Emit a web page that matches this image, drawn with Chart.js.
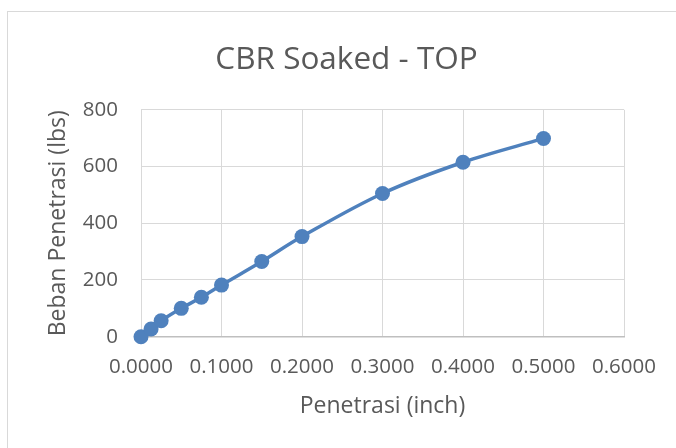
<!DOCTYPE html>
<html>
<head>
<meta charset="utf-8">
<script src="https://cdn.jsdelivr.net/npm/chart.js@4/dist/chart.umd.min.js"></script>
<style>
  html, body { margin: 0; padding: 0; background: #ffffff; overflow: hidden; }
  #frame { position: absolute; left: 7px; top: 11px; width: 720px; height: 500px; border: 1px solid #d9d9d9; box-sizing: border-box; }
  #wrap { position: absolute; left: 0; top: 0; width: 676px; height: 448px; }
</style>
</head>
<body>
<div id="frame"></div>
<div id="wrap"><canvas id="c" width="676" height="448"></canvas></div>
<script>
const chartTitle = "CBR Soaked - TOP";
const xAxisTitle = "Penetrasi (inch)";
const yAxisTitle = "Beban Penetrasi (lbs)";
const penetrasi = [0, 0.0125, 0.025, 0.05, 0.075, 0.1, 0.15, 0.2, 0.3, 0.4, 0.5];
const beban = [0, 27, 56, 100, 139, 182, 265, 353, 505, 615, 699];
const xTicks = [0, 0.1, 0.2, 0.3, 0.4, 0.5, 0.6];
const yTicks = [0, 200, 400, 600, 800];

const FONT = "'Open Sans', 'DejaVu Sans', sans-serif";
const TXT = '#595959';
const GRID = '#d9d9d9';
const BLUE = 'rgb(79,129,189)';

const points = penetrasi.map((x, i) => ({ x: x, y: beban[i] }));

new Chart(document.getElementById('c'), {
  type: 'scatter',
  data: {
    datasets: [{
      data: points,
      showLine: true,
      borderColor: BLUE,
      backgroundColor: BLUE,
      borderWidth: 3.5,
      pointRadius: 7.5,
      pointHoverRadius: 7.5,
      pointBorderWidth: 0,
      tension: 0.35,
      clip: false
    }]
  },
  options: {
    responsive: false,
    animation: false,
    events: [],
    layout: { padding: { left: 17, top: 11, right: 0, bottom: 0 } },
    plugins: {
      legend: { display: false },
      tooltip: { enabled: false },
      title: {
        display: true,
        text: chartTitle,
        color: TXT,
        font: { family: FONT, size: 31.5, weight: 'normal' },
        padding: { top: 30, bottom: 31 }
      }
    },
    scales: {
      x: {
        type: 'linear',
        min: xTicks[0],
        max: xTicks[xTicks.length - 1],
        afterBuildTicks: (s) => { s.ticks = xTicks.map(v => ({ value: v })); },
        afterFit: (s) => { s.height = 111.3; },
        ticks: {
          color: TXT,
          font: { family: FONT, size: 20.5 },
          padding: 18,
          maxRotation: 0,
          callback: (v) => Number(v).toFixed(4)
        },
        grid: { color: GRID, lineWidth: 1, drawTicks: false },
        border: { color: '#bfbfbf', width: 1.5 },
        title: {
          display: true,
          text: xAxisTitle,
          color: TXT,
          font: { family: FONT, size: 23 },
          padding: { top: 0, bottom: 28 }
        }
      },
      y: {
        type: 'linear',
        min: yTicks[0],
        max: yTicks[yTicks.length - 1],
        afterBuildTicks: (s) => { s.ticks = yTicks.map(v => ({ value: v })); },
        afterFit: (s) => { s.width = 124; },
        ticks: {
          color: TXT,
          font: { family: FONT, size: 20.5 },
          padding: 23
        },
        grid: { color: GRID, lineWidth: 1, drawTicks: false },
        border: { color: GRID, width: 1 },
        title: {
          display: true,
          text: yAxisTitle,
          color: TXT,
          font: { family: FONT, size: 23 },
          padding: { top: 27.7, bottom: 0 }
        }
      },
      yRight: {
        type: 'linear',
        position: 'right',
        min: yTicks[0],
        max: yTicks[yTicks.length - 1],
        afterFit: (s) => { s.width = 52; },
        ticks: { display: false },
        grid: { display: false, drawTicks: false },
        border: { display: false },
        title: { display: false }
      }
    }
  }
});
</script>
</body>
</html>
